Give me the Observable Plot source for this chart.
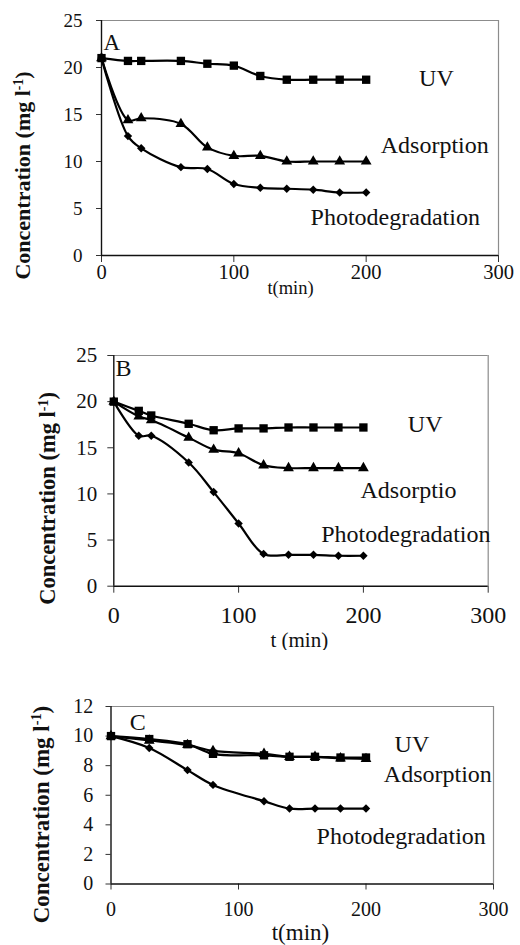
<!DOCTYPE html>
<html><head><meta charset="utf-8">
<script src="https://cdn.jsdelivr.net/npm/d3@7"></script>
<script src="https://cdn.jsdelivr.net/npm/@observablehq/plot@0.6"></script>
<style>
html,body{margin:0;padding:0;background:#fff;}
#wrap{position:relative;width:520px;height:945px;overflow:hidden;background:#fff;}
#wrap > div{position:absolute;left:0;}
#wrap svg, #wrap svg text, #wrap svg tspan{font-family:"Liberation Serif","Times New Roman",serif !important;}
</style></head>
<body><div id="wrap"><div id="pa" style="top:0px"></div><div id="pb" style="top:320px"></div><div id="pc" style="top:650px"></div></div>
<script>
// ---------- data ----------
const seriesNames = ["UV", "Adsorption", "Photodegradation"];
const seriesSymbols = ["square", "triangle", "diamond2"];

const timeA  = [0, 20, 30, 60, 80, 100, 120, 140, 160, 180, 200];
const uvA    = [21, 20.7, 20.7, 20.7, 20.4, 20.2, 19.1, 18.7, 18.7, 18.7, 18.7];
const adsA   = [21, 14.4, 14.6, 14.0, 11.5, 10.6, 10.6, 10.0, 10.0, 10.0, 10.0];
const photoA = [21, 12.7, 11.4, 9.4, 9.2, 7.6, 7.2, 7.1, 7.0, 6.7, 6.7];

const timeB  = [0, 20, 30, 60, 80, 100, 120, 140, 160, 180, 200];
const uvB    = [20, 19.0, 18.5, 17.6, 16.9, 17.1, 17.1, 17.2, 17.2, 17.2, 17.2];
const adsB   = [20, 18.4, 18.0, 16.1, 14.8, 14.4, 13.1, 12.8, 12.8, 12.8, 12.8];
const photoB = [20, 16.3, 16.3, 13.4, 10.2, 6.8, 3.5, 3.4, 3.4, 3.3, 3.3];

const timeC  = [0, 30, 60, 80, 120, 140, 160, 180, 200];
const uvC    = [10, 9.8, 9.45, 8.8, 8.7, 8.6, 8.6, 8.55, 8.55];
const adsC   = [10, 9.7, 9.4, 9.0, 8.8, 8.6, 8.6, 8.5, 8.45];
const photoC = [10, 9.2, 7.7, 6.7, 5.6, 5.1, 5.1, 5.1, 5.1];

const xTicks   = [0, 100, 200, 300];
const yTicksAB = [0, 5, 10, 15, 20, 25];
const yTicksC  = [0, 2, 4, 6, 8, 10, 12];

const panelLetters = ["A", "B", "C"];
const xTitles = ["t(min)", "t (min)", "t(min)"];
const yTitle = "Concentration (mg l-1)";
const labelsA = ["UV", "Adsorption", "Photodegradation"];
const labelsB = ["UV", "Adsorptio", "Photodegradation"];
const labelsC = ["UV", "Adsorption", "Photodegradation"];

// ---------- build ----------
function rows(t, vals) { return t.map((x, i) => ({t: x, c: vals[i]})); }

function panel(el, cfg) {
  const series = [cfg.uv, cfg.ads, cfg.photo];
  const marks = [
    Plot.ruleY([cfg.yTicks[cfg.yTicks.length - 1]], {stroke: "#8c8c8c", strokeWidth: 1.2}),
    Plot.ruleX([xTicks[xTicks.length - 1]], {stroke: "#8c8c8c", strokeWidth: 1.2}),
    Plot.axisY({ticks: cfg.yTicks, tickSize: cfg.yTickSize, tickPadding: cfg.yTickPad, fontSize: cfg.yFont, label: null, stroke: "#333", fill: "#111"}),
    Plot.axisX({ticks: xTicks, tickSize: cfg.xTickSize, tickPadding: cfg.xTickPad, fontSize: cfg.xFont, label: null, stroke: "#333", fill: "#111"}),
    Plot.ruleX([0], {stroke: "#111", strokeWidth: 1.4}),
    Plot.ruleY([0], {stroke: "#111", strokeWidth: 1.4})
  ];
  series.forEach((vals) => {
    marks.push(Plot.line(rows(cfg.time, vals), {x: "t", y: "c", curve: "catmull-rom", stroke: "#000", strokeWidth: 2.2}));
  });
  series.forEach((vals, k) => {
    marks.push(Plot.dot(rows(cfg.time, vals), {x: "t", y: "c", symbol: seriesSymbols[k], r: cfg.r[k], fill: "#000", stroke: "none"}));
  });
  const lab = cfg.labels.map((s, i) => ({s, x: cfg.labX[i], y: cfg.labY[i]}));
  marks.push(Plot.text(lab, {x: "x", y: "y", text: "s", textAnchor: "start", lineAnchor: "middle", fontSize: cfg.labFont, fill: "#111"}));
  marks.push(Plot.text([cfg.letter], {x: cfg.letterX, y: cfg.letterY, text: d => d, textAnchor: "start", lineAnchor: "middle", fontSize: cfg.letterFont, fill: "#111"}));
  marks.push(Plot.text([cfg.xTitle], {frameAnchor: "bottom", text: d => d, textAnchor: "middle", lineAnchor: "middle", dx: cfg.xtDx, dy: cfg.xtDy, fontSize: cfg.xtFont, fill: "#111"}));
  marks.push(Plot.text([yTitle], {frameAnchor: "left", text: d => d, rotate: -90, textAnchor: "middle", lineAnchor: "middle", dx: cfg.ytDx, dy: cfg.ytDy, fontSize: cfg.ytFont, fontWeight: "bold", fill: "#111"}));

  const svg = Plot.plot({
    width: 520, height: cfg.height,
    marginLeft: cfg.ml, marginRight: cfg.mr, marginTop: cfg.mt, marginBottom: cfg.mb,
    x: {domain: [0, 300]},
    y: {domain: [0, cfg.yTicks[cfg.yTicks.length - 1]]},
    style: "font-family: 'Liberation Serif','Times New Roman',serif; background: white; overflow: visible;",
    marks
  });
  svg.querySelectorAll("text").forEach(t => {
    if (t.textContent === yTitle) {
      t.textContent = "";
      const ns = "http://www.w3.org/2000/svg";
      const a = document.createElementNS(ns, "tspan"); a.textContent = "Concentration (mg l";
      const b = document.createElementNS(ns, "tspan"); b.textContent = "-1"; b.setAttribute("baseline-shift", "super"); b.setAttribute("font-size", "62%");
      const c = document.createElementNS(ns, "tspan"); c.textContent = ")";
      t.appendChild(a); t.appendChild(b); t.appendChild(c);
    }
  });
  document.getElementById(el).appendChild(svg);
}

panel("pa", {
  time: timeA, uv: uvA, ads: adsA, photo: photoA, yTicks: yTicksAB,
  height: 305, ml: 101, mr: 22, mt: 20, mb: 50,
  yTickSize: 5, yTickPad: 14, yFont: 19, xTickSize: 7, xTickPad: 1.5, xFont: 20.5,
  r: [4.7, 4.0, 3.8],
  labels: labelsA, labX: [240, 211, 158], labY: [18.8, 11.7, 4.1], labFont: 24,
  letter: panelLetters[0], letterX: 1.5, letterY: 22.6, letterFont: 23,
  xTitle: xTitles[0], xtDx: -9.5, xtDy: 33, xtFont: 18.5,
  ytDx: -79, ytDy: 37.5, ytFont: 22
});
panel("pb", {
  time: timeB, uv: uvB, ads: adsB, photo: photoB, yTicks: yTicksAB,
  height: 330, ml: 113.3, mr: 32.3, mt: 35, mb: 64.3,
  yTickSize: 6, yTickPad: 10.5, yFont: 21, xTickSize: 7, xTickPad: 12.5, xFont: 24,
  r: [4.7, 4.0, 3.8],
  labels: labelsB, labX: [235.6, 197.7, 166.2], labY: [17.5, 10.4, 5.6], labFont: 24,
  letter: panelLetters[1], letterX: 1.4, letterY: 23.6, letterFont: 24,
  xTitle: xTitles[1], xtDx: -1.7, xtDy: 54.3, xtFont: 21,
  ytDx: -66.3, ytDy: 27.6, ytFont: 22.5
});
panel("pc", {
  time: timeC, uv: uvC, ads: adsC, photo: photoC, yTicks: yTicksC,
  height: 295, ml: 110.5, mr: 27, mt: 56, mb: 61.5,
  yTickSize: 5, yTickPad: 12.8, yFont: 20, xTickSize: 6, xTickPad: 11.5, xFont: 20,
  r: [4.7, 4.0, 3.8],
  labels: labelsC, labX: [222.4, 214, 161.2], labY: [9.45, 7.4, 3.25], labFont: 24,
  letter: panelLetters[2], letterX: 14.7, letterY: 10.9, letterFont: 24,
  xTitle: xTitles[2], xtDx: -1.8, xtDy: 48.5, xtFont: 23,
  ytDx: -69, ytDy: 19.3, ytFont: 23
});
</script></body></html>
